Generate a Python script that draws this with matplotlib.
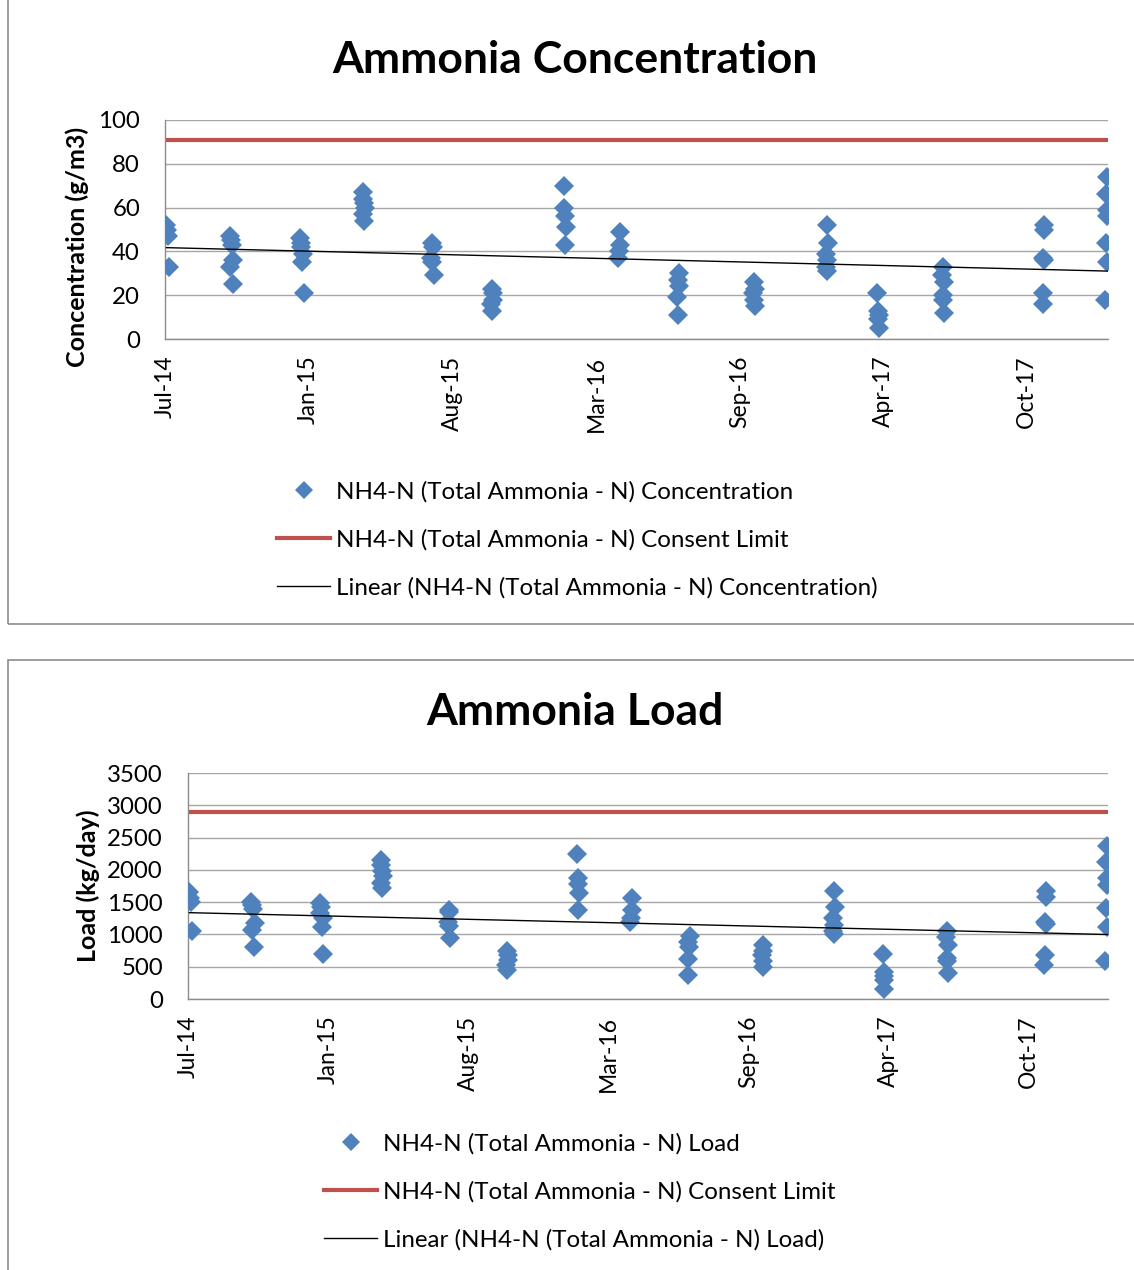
import numpy as np
import matplotlib
matplotlib.use("Agg")
import matplotlib.pyplot as plt
import matplotlib.dates as mdates
from matplotlib.patches import Rectangle
from matplotlib.lines import Line2D

plt.rcParams['font.family'] = ['Lato', 'DejaVu Sans']

# sample dates (shared by both charts)
sample_dates = [
    "2014-07-14", "2014-07-15", "2014-07-16", "2014-07-18",
    "2014-10-10", "2014-10-12", "2014-10-13", "2014-10-15", "2014-10-11", "2014-10-14",
    "2015-01-16", "2015-01-18", "2015-01-17", "2015-01-20", "2015-01-19", "2015-01-21",
    "2015-04-14", "2015-04-13", "2015-04-15", "2015-04-16", "2015-04-14", "2015-04-15",
    "2015-07-19", "2015-07-20", "2015-07-18", "2015-07-19", "2015-07-21",
    "2015-10-10", "2015-10-12", "2015-10-11", "2015-10-09", "2015-10-10",
    "2016-01-18", "2016-01-19", "2016-01-20", "2016-01-21", "2016-01-20",
    "2016-04-05", "2016-04-06", "2016-04-04", "2016-04-03",
    "2016-06-27", "2016-06-25", "2016-06-26", "2016-06-24", "2016-06-25",
    "2016-10-09", "2016-10-10", "2016-10-08", "2016-10-09", "2016-10-10",
    "2017-01-19", "2017-01-20", "2017-01-18", "2017-01-19", "2017-01-18", "2017-01-19",
    "2017-03-30", "2017-03-31", "2017-04-01", "2017-03-31", "2017-04-01",
    "2017-06-29", "2017-06-28", "2017-06-30", "2017-06-29", "2017-06-29", "2017-06-30",
    "2017-11-17", "2017-11-17", "2017-11-16", "2017-11-17", "2017-11-16", "2017-11-15",
    "2018-02-12", "2018-02-11", "2018-02-12", "2018-02-12", "2018-02-11", "2018-02-13", "2018-02-10",
]

# NH4-N concentration (g/m3)
conc = [
    52, 50, 47, 33,
    47, 45, 43, 36, 33, 25,
    46, 44, 42, 39, 35, 21,
    67, 64, 62, 60, 57, 54,
    44, 42, 37, 35, 29,
    23, 21, 18, 16, 13,
    70, 60, 56, 51, 43,
    49, 43, 40, 37,
    30, 27, 24, 19, 11,
    26, 23, 21, 18, 15,
    52, 44, 39, 36, 33, 31,
    21, 13, 11, 9, 5,
    33, 29, 26, 20, 18, 12,
    52, 50, 37, 36, 21, 16,
    74, 66, 59, 56, 44, 35, 18,
]

# NH4-N load (kg/day)
load = [
    1650, 1560, 1500, 1060,
    1500, 1450, 1400, 1170, 1070, 810,
    1480, 1430, 1330, 1250, 1120, 690,
    2150, 2070, 1980, 1900, 1800, 1720,
    1380, 1340, 1200, 1130, 940,
    740, 680, 600, 520, 450,
    2240, 1880, 1780, 1640, 1380,
    1560, 1380, 1250, 1190,
    970, 880, 800, 620, 370,
    840, 750, 680, 590, 500,
    1680, 1420, 1250, 1150, 1050, 1000,
    690, 420, 350, 290, 160,
    1060, 960, 830, 640, 590, 400,
    1670, 1580, 1190, 1160, 680, 530,
    2370, 2120, 1880, 1770, 1410, 1120, 590,
]

conc_limit = 91
load_limit = 2900

x_start = "2014-07-12"
x_end = "2018-02-14"
tick_step_days = 200

blue = "#4F81BD"
red = "#C0504D"
grid_c = "#A6A6A6"
W, H = 1134, 1270

x = mdates.datestr2num(sample_dates)
x0 = mdates.datestr2num(x_start)
x1 = mdates.datestr2num(x_end)

fig = plt.figure(figsize=(W / 100, H / 100), dpi=100)

# panel borders
fig.patches.append(Rectangle((8 / W, 1 - 624 / H), 1.2, 1, transform=fig.transFigure,
                             fill=False, edgecolor="#8C8C8C", lw=1.2))
fig.patches.append(Rectangle((8 / W, -0.5), 1.2, 0.5 + (1 - 660 / H), transform=fig.transFigure,
                             fill=False, edgecolor="#8C8C8C", lw=1.2))


def panel(rect, vals, limit, ymax, ystep, title, title_y, ylabel, ylabel_x, ylabel_y,
          leg_labels, leg_x, leg_y):
    l, t, r, b = rect
    ax = fig.add_axes([l / W, 1 - b / H, (r - l) / W, (b - t) / H])
    ax.set_xlim(x0, x1)
    ax.set_ylim(0, ymax)
    ax.set_yticks(np.arange(0, ymax + 1, ystep))
    ax.set_xticks(np.arange(x0, x1, tick_step_days))
    ax.xaxis.set_major_formatter(mdates.DateFormatter("%b-%y"))
    ax.grid(axis="y", color=grid_c, lw=1.0)
    ax.set_axisbelow(True)
    for s in ["top", "right"]:
        ax.spines[s].set_visible(False)
    for s in ["left", "bottom"]:
        ax.spines[s].set_color("#8C8C8C")
        ax.spines[s].set_linewidth(1.0)
    ax.tick_params(length=0, labelsize=17.3)
    ax.tick_params(axis="y", pad=18)
    ax.tick_params(axis="x", pad=12, labelrotation=90, labelsize=16.5)

    ax.axhline(limit, color=red, lw=3, zorder=2)
    ax.plot(x, vals, linestyle="none", marker="D", ms=10.5, color=blue,
            markeredgewidth=0, zorder=3)
    coef = np.polyfit(x, vals, 1)
    xt = np.array([x.min(), x.max()])
    ax.plot(xt, np.polyval(coef, xt), color="black", lw=1.0, zorder=4)

    fig.text(575 / W, 1 - title_y / H, title, ha="center", va="center",
             fontsize=32, fontweight="bold")
    fig.text(ylabel_x / W, 1 - ylabel_y / H, ylabel, ha="center", va="center",
             rotation=90, fontsize=18, fontweight="bold")

    handles = [
        Line2D([], [], linestyle="none", marker="D", ms=9.5, color=blue, markeredgewidth=0),
        Line2D([], [], color=red, lw=3),
        Line2D([], [], color="black", lw=1.0),
    ]
    fig.legend(handles, leg_labels, loc="upper left", bbox_to_anchor=(leg_x / W, 1 - leg_y / H),
               frameon=False, fontsize=17.4, handlelength=2.2, handletextpad=0.25,
               labelspacing=1.09, borderpad=0, borderaxespad=0, numpoints=1)
    return ax


panel((165, 120, 1108, 339), conc, conc_limit, 100, 20,
      "Ammonia Concentration", 60, "Concentration (g/m3)", 77, 247,
      ["NH4-N (Total Ammonia - N) Concentration",
       "NH4-N (Total Ammonia - N) Consent Limit",
       "Linear (NH4-N (Total Ammonia - N) Concentration)"], 277, 481)

panel((188, 773, 1108, 999), load, load_limit, 3500, 500,
      "Ammonia Load", 712, "Load (kg/day)", 88, 886,
      ["NH4-N (Total Ammonia - N) Load",
       "NH4-N (Total Ammonia - N) Consent Limit",
       "Linear (NH4-N (Total Ammonia - N) Load)"], 324, 1133)

fig.savefig("out.png", dpi=100)
